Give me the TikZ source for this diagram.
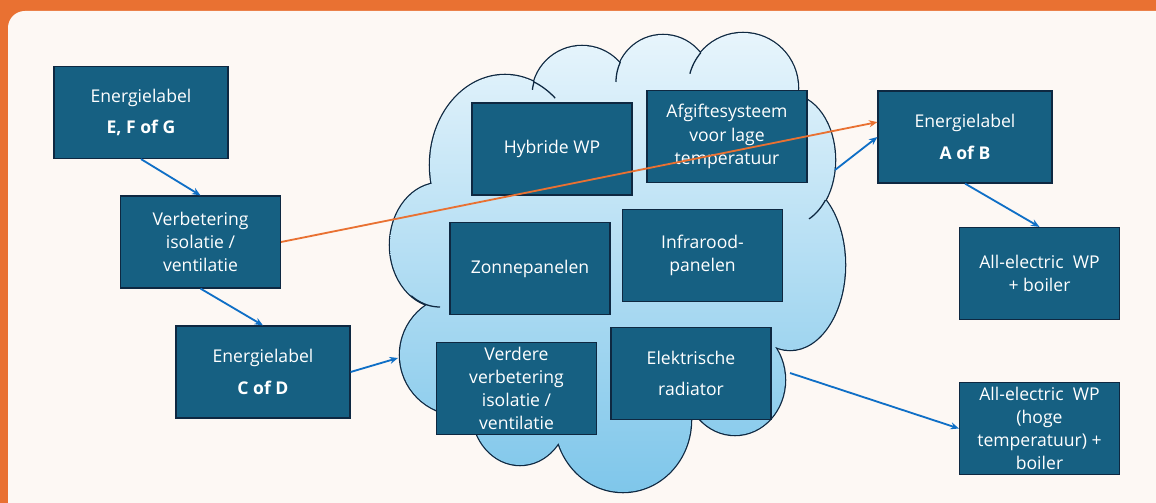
\documentclass[tikz,border=0pt]{standalone}
\usepackage{fontspec}
\setmainfont{Open Sans}
\usepackage{tikz}
\usetikzlibrary{arrows.meta, calc, positioning}
\usepackage{xcolor}
\definecolor{frameorange}{RGB}{233, 113, 50}
\definecolor{paper}{RGB}{253, 248, 244}
\definecolor{boxblue}{RGB}{22, 96, 130}
\definecolor{boxedge}{RGB}{14, 40, 65}
\definecolor{arrowblue}{RGB}{15, 111, 198}
\definecolor{cloudtop}{RGB}{232, 245, 252}
\definecolor{cloudmid}{RGB}{170, 218, 242}
\definecolor{cloudbot}{RGB}{126, 198, 234}

\begin{document}
\begin{tikzpicture}[
  x=0.025cm, y=-0.025cm,
  box/.style={draw=boxedge, fill=boxblue, line width=0.8pt,
              minimum width=4.35cm, minimum height=2.3cm,
              align=center, text=white, font=\fontsize{12.5}{16.5}\selectfont},
  inbox/.style={box, minimum width=4cm},
  arr/.style={-{Stealth[length=6pt, width=5pt]}, arrowblue, line width=1.3pt},
  oarr/.style={-{Stealth[length=6pt, width=5pt]}, frameorange, line width=1.3pt},
  innerarc/.style={boxedge, line width=0.9pt}
]
  \useasboundingbox (0,0) rectangle (1156,503);
  \fill[frameorange] (0,0) rectangle (1156,503);
  \fill[paper, rounded corners=12pt] (8,11) rectangle (1190,540);

  % cloud: union of puffs, outline first, then the shading clipped to the puffs
  \def\puffs{505/165/75/90, 582/96/50/50, 663/82/47/47, 743/88/55/55,
             790/160/45/65, 790/265/55/85, 735/380/50/55, 623/420/68/72,
             520/410/48/55, 460/355/60/60, 440/245/50/62, 615/255/170/150}
  \foreach \px/\py/\rx/\ry in \puffs
    \draw[boxedge, line width=1.8pt] (\px,\py) ellipse[x radius=\rx, y radius=\ry];
  \begin{scope}
    \clip \foreach \px/\py/\rx/\ry in \puffs {(\px,\py) ellipse[x radius=\rx, y radius=\ry]};
    \shade[top color=cloudtop, middle color=cloudmid, bottom color=cloudbot]
      (380,30) rectangle (850,495);
  \end{scope}
  % short inner arcs where the puffs overlap
  \foreach \px/\py/\rx/\ry/\ta/\tb in {505/165/75/90/-68/-48, 582/96/50/50/187/197,
      663/82/47/47/180/205, 743/88/55/55/195/220, 790/160/45/65/38/65,
      440/245/50/62/90/125}
    \draw[innerarc] plot[domain=\ta:\tb, samples=20, variable=\t]
      ({\px+\rx*cos(\t)}, {\py+\ry*sin(\t)});

  \node[box] (efg) at (141,112.5) {Energielabel\\[6pt]\textbf{E, F of G}};
  \node[inbox] (verb) at (200.5,242) {Verbetering\\isolatie /\\ventilatie};
  \node[box] (cd) at (263,372) {Energielabel\\[6pt]\textbf{C of D}};

  \node[inbox] (hyb) at (552,149) {Hybride WP};
  \node[inbox] (afg) at (727,136.5) {Afgiftesysteem\\voor lage\\temperatuur};
  \node[inbox] (zon) at (530,268.5) {Zonnepanelen};
  \node[inbox] (infra) at (702.5,255.5) {Infrarood-\\panelen};
  \node[inbox] (verd) at (516.5,388.5) {Verdere\\verbetering\\isolatie /\\ventilatie};
  \node[inbox] (elek) at (691,373.5) {Elektrische\\[6pt]radiator};

  \node[box] (ab) at (965,137) {Energielabel\\[6pt]\textbf{A of B}};
  \node[inbox] (ae1) at (1039.5,273.5) {All-electric\ \ WP\\+ boiler};
  \node[inbox] (ae2) at (1039.5,428.5) {All-electric\ \ WP\\(hoge\\temperatuur) +\\boiler};

  \coordinate (cin) at (398,358);
  \coordinate (cout1) at (835,170);
  \coordinate (cout2) at (790,373);

  \draw[arr] (efg.south) -- (verb.north);
  \draw[arr] (verb.south) -- (cd.north);
  \draw[arr] (cd.east) -- (cin);
  \draw[arr] (cout1) -- (ab.west);
  \draw[arr] (cout2) -- (ae2.west);
  \draw[arr] (ab.south) -- (ae1.north);
  \draw[oarr] (verb.east) -- ($(ab.north west)!0.34!(ab.south west)$);
\end{tikzpicture}
\end{document}
